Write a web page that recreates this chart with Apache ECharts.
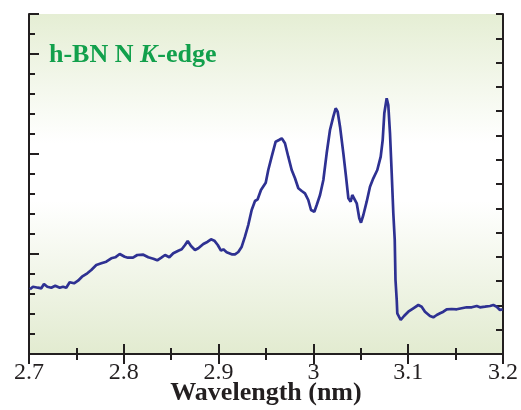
<!DOCTYPE html>
<html>
<head>
<meta charset="utf-8">
<script src="https://cdn.jsdelivr.net/npm/echarts@6/dist/echarts.min.js"></script>
<style>
  html, body { margin: 0; padding: 0; background: #fff; }
  #chart { width: 521px; height: 410px; }
</style>
</head>
<body>
<div id="chart"></div>
<script>
// wavelength (nm)
const wavelength = [
  2.701, 2.7042, 2.7095, 2.713, 2.7158, 2.7193, 2.7235, 2.7277, 2.7324, 2.7359,
  2.7393, 2.7429, 2.7475, 2.7517, 2.7559, 2.7615, 2.7657, 2.771, 2.7763, 2.7815,
  2.7868, 2.791, 2.7957, 2.8009, 2.8044, 2.8097, 2.8142, 2.8206, 2.8258, 2.8311,
  2.8353, 2.84, 2.8435, 2.848, 2.8522, 2.8575, 2.8611, 2.8646, 2.8674, 2.8709,
  2.8751, 2.8786, 2.8839, 2.8885, 2.892, 2.8955, 2.8991, 2.9025, 2.905, 2.9085,
  2.9138, 2.9173, 2.9208, 2.9244, 2.9278, 2.9313, 2.9349, 2.9384, 2.9412, 2.9447,
  2.9497, 2.9524, 2.956, 2.9602, 2.9637, 2.9666, 2.97, 2.9735, 2.9771, 2.9806,
  2.9841, 2.9877, 2.9911, 2.9946, 2.9975, 3.001, 3.0035, 3.007, 3.0105, 3.014,
  3.0175, 3.021, 3.0235, 3.0256, 3.0281, 3.0316, 3.0344, 3.0369, 3.0393, 3.041,
  3.0431, 3.0457, 3.0484, 3.0502, 3.0527, 3.0562, 3.0597, 3.0632, 3.0674, 3.071,
  3.0731, 3.0748, 3.0773, 3.079, 3.0808, 3.0826, 3.0843, 3.0858, 3.0866, 3.0879,
  3.0885, 3.0921, 3.0956, 3.1001, 3.1054, 3.1107, 3.1142, 3.1177, 3.123, 3.1265,
  3.1301, 3.1336, 3.1371, 3.1406, 3.1459, 3.1512, 3.1564, 3.1617, 3.167, 3.1723,
  3.1757, 3.181, 3.1863, 3.1898, 3.1934, 3.1968, 3.1997
];

// absorption (arb. units)
const intensity = [
  0.647, 0.673, 0.663, 0.657, 0.70, 0.673, 0.663, 0.683, 0.663, 0.673,
  0.663, 0.717, 0.707, 0.733, 0.773, 0.807, 0.84, 0.89, 0.907, 0.923,
  0.957, 0.967, 1.00, 0.973, 0.963, 0.963, 0.99, 0.993, 0.967, 0.953,
  0.937, 0.967, 0.99, 0.967, 1.007, 1.033, 1.047, 1.09, 1.13, 1.08,
  1.04, 1.057, 1.10, 1.123, 1.147, 1.133, 1.09, 1.033, 1.047, 1.017,
  0.997, 0.997, 1.02, 1.073, 1.173, 1.29, 1.44, 1.53, 1.547, 1.64,
  1.713, 1.84, 1.973, 2.123, 2.14, 2.157, 2.107, 1.973, 1.84, 1.757,
  1.657, 1.63, 1.607, 1.54, 1.44, 1.423, 1.49, 1.59, 1.74, 2.007,
  2.24, 2.373, 2.457, 2.423, 2.273, 2.007, 1.773, 1.557, 1.523, 1.59,
  1.597, 1.507, 1.357, 1.313, 1.39, 1.523, 1.673, 1.757, 1.84, 1.973,
  2.14, 2.407, 2.557, 2.49, 2.207, 1.807, 1.407, 1.14, 0.74, 0.54,
  0.407, 0.34, 0.38, 0.423, 0.457, 0.49, 0.473, 0.423, 0.38, 0.367,
  0.39, 0.407, 0.423, 0.447, 0.45, 0.447, 0.457, 0.467, 0.467, 0.48,
  0.467, 0.473, 0.48, 0.49, 0.473, 0.44, 0.447
];

const titleText = "h-BN N ";
const titleItalic = "K";
const titleTail = "-edge";
const xName = "Wavelength (nm)";

const frameColor = "#231f20";
const serif = "'Liberation Serif', 'DejaVu Serif', serif";

const chart = echarts.init(document.getElementById("chart"));

const points = wavelength.map((w, i) => [w, intensity[i]]);

const option = {
  animation: false,
  title: {
    left: 49,
    top: 42,
    padding: 0,
    text: `{a|${titleText}}{b|${titleItalic}}{a|${titleTail}}`,
    textStyle: {
      rich: {
        a: { fontFamily: serif, fontWeight: "bold", fontSize: 26, color: "#12a04c" },
        b: { fontFamily: serif, fontWeight: "bold", fontStyle: "italic", fontSize: 26, color: "#12a04c" },
      },
    },
  },
  grid: {
    left: 29,
    right: 18,
    top: 14,
    bottom: 56,
    containLabel: false,
    outerBoundsMode: "none",
    show: true,
    borderWidth: 0,
    backgroundColor: new echarts.graphic.LinearGradient(0, 0, 0, 1, [
      { offset: 0, color: "#e5eed4" },
      { offset: 0.38, color: "#ffffff" },
      { offset: 0.55, color: "#ffffff" },
      { offset: 1, color: "#e2ebd0" },
    ]),
  },
  xAxis: [
    {
      type: "value",
      position: "bottom",
      min: 2.7,
      max: 3.2,
      interval: 0.1,
      name: xName,
      nameLocation: "middle",
      nameGap: 26,
      nameMoveOverlap: false,
      nameTextStyle: { fontFamily: serif, fontWeight: "bold", fontSize: 26, color: frameColor },
      axisLine: { show: true, lineStyle: { color: frameColor, width: 2 } },
      axisTick: { show: true, inside: true, length: 10, lineStyle: { color: frameColor, width: 2 } },
      minorTick: { show: true, splitNumber: 2, length: 6, lineStyle: { color: frameColor, width: 2 } },
      axisLabel: {
        margin: 7,
        fontFamily: serif,
        fontSize: 24,
        color: frameColor,
        formatter: (v) => String(Math.round(v * 10) / 10),
      },
      splitLine: { show: false },
    },
    {
      type: "value",
      position: "top",
      min: 2.7,
      max: 3.2,
      interval: 0.1,
      axisLine: { show: true, lineStyle: { color: frameColor, width: 2 } },
      axisTick: { show: true, inside: true, length: 10, lineStyle: { color: frameColor, width: 2 } },
      minorTick: { show: true, splitNumber: 2, length: 6, lineStyle: { color: frameColor, width: 2 } },
      axisLabel: { show: false },
      splitLine: { show: false },
    },
  ],
  yAxis: [
    {
      type: "value",
      position: "left",
      min: 0,
      max: 3.4,
      interval: 1,
      axisLine: { show: true, lineStyle: { color: frameColor, width: 2 } },
      axisTick: { show: true, inside: true, length: 10, lineStyle: { color: frameColor, width: 2 } },
      axisLabel: { show: false },
      splitLine: { show: false },
    },
    {
      type: "value",
      position: "left",
      min: 0,
      max: 3.4,
      interval: 0.2,
      axisLine: { show: false },
      axisTick: { show: true, inside: true, length: 6, lineStyle: { color: frameColor, width: 2 } },
      axisLabel: { show: false },
      splitLine: { show: false },
    },
    {
      type: "value",
      position: "right",
      min: 0,
      max: 14,
      interval: 1,
      axisLine: { show: true, lineStyle: { color: frameColor, width: 2 } },
      axisTick: { show: true, inside: true, length: 7, lineStyle: { color: frameColor, width: 2 } },
      axisLabel: { show: false },
      splitLine: { show: false },
    },
  ],
  series: [
    {
      type: "line",
      xAxisIndex: 0,
      yAxisIndex: 0,
      data: points,
      showSymbol: false,
      symbol: "none",
      lineStyle: { color: "#2e3192", width: 2.7 },
    },
  ],
};

option && chart.setOption(option);
</script>
</body>
</html>
